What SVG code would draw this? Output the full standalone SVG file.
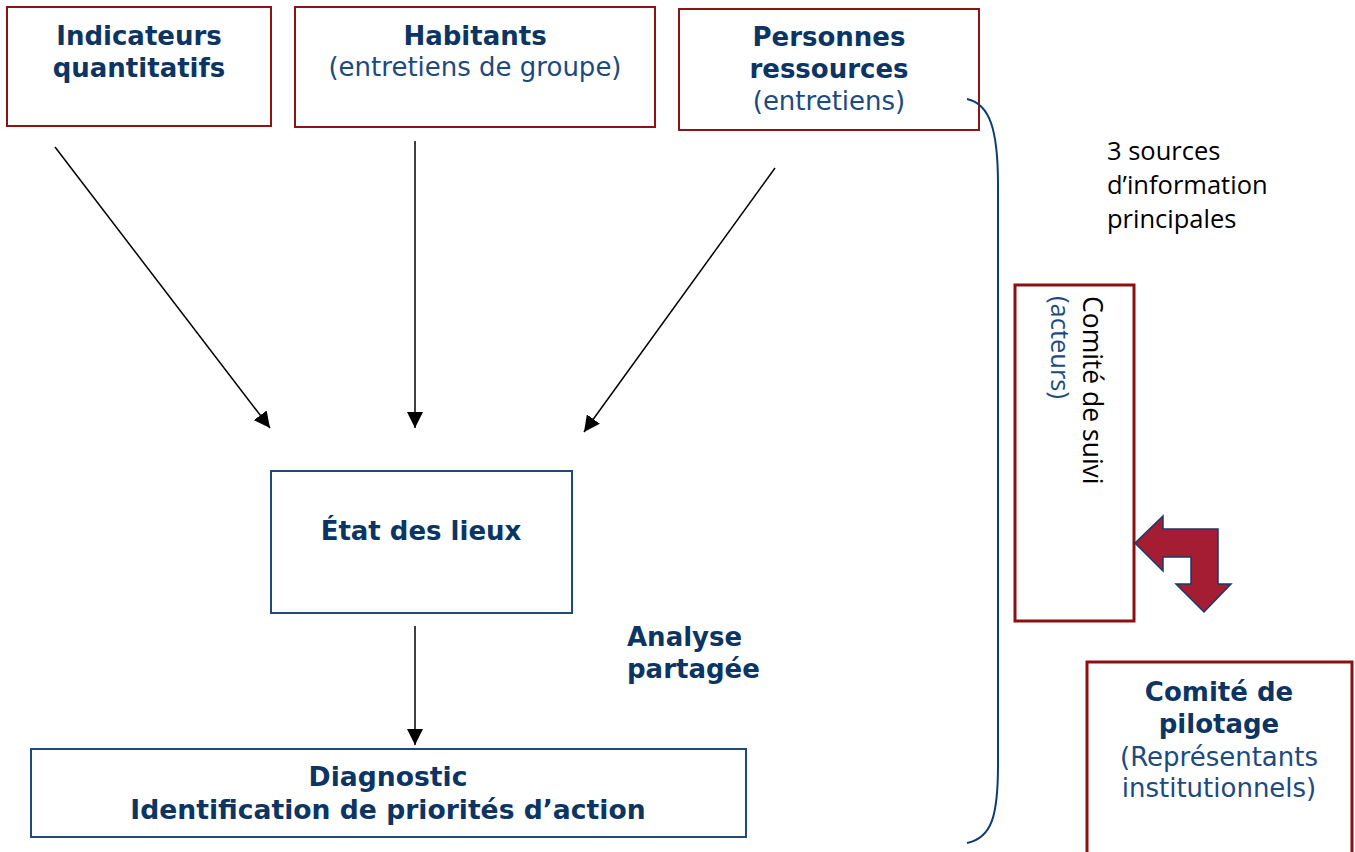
<svg xmlns="http://www.w3.org/2000/svg" width="1355" height="852" viewBox="0 0 1355 852">
<defs>
<marker id="ah" markerUnits="userSpaceOnUse" markerWidth="16" markerHeight="16" viewBox="0 0 16 16" refX="16" refY="8" orient="auto">
<path d="M0,0 L16,8 L0,16 Z" fill="#000"/>
</marker>
<style>
.src{fill:#fff;stroke:#8b1414;stroke-width:2}
.blue{fill:#fff;stroke:#1f497d;stroke-width:2}
.com{fill:#fff;stroke:#8b1010;stroke-width:3}
.b{font-family:"DejaVu Sans",Verdana,sans-serif;font-weight:bold;font-size:26px;fill:#0c3563}
.bl{font-size:26.6px}
.r{font-family:"DejaVu Sans",Verdana,sans-serif;font-size:26px;fill:#1c4a80}
.h{font-family:"Open Sans","Noto Sans",sans-serif;font-size:25.5px;fill:#000}
.hv{font-family:"Open Sans","Noto Sans",sans-serif;font-size:26.5px;fill:#000}
.hb{font-family:"Open Sans","Noto Sans",sans-serif;font-size:25.5px;fill:#1c4a80}
.c{text-anchor:middle}
.conn{stroke:#000;stroke-width:1.5;fill:none;marker-end:url(#ah)}
</style>
</defs>
<rect width="1355" height="852" fill="#fff"/>

<g id="indicateurs">
<rect class="src" x="7" y="7" width="264" height="119"/>
<text class="b c" x="139" y="45">Indicateurs</text>
<text class="b c" x="139" y="77">quantitatifs</text>
</g>

<g id="habitants">
<rect class="src" x="295" y="7" width="360" height="120"/>
<text class="b c" x="475" y="45">Habitants</text>
<text class="r c" x="475" y="76">(entretiens de groupe)</text>
</g>

<g id="personnes">
<rect class="src" x="679" y="9" width="300" height="121"/>
<text class="b c" x="829" y="46">Personnes</text>
<text class="b c" x="829" y="78">ressources</text>
<text class="r c" x="829" y="110">(entretiens)</text>
</g>

<g id="etat">
<rect class="blue" x="271" y="471" width="301" height="142"/>
<text class="b c" x="421" y="540">État des lieux</text>
</g>

<g id="diagnostic">
<rect class="blue" x="31" y="749" width="715" height="88"/>
<text class="b c bl" x="388" y="786">Diagnostic</text>
<text class="b c bl" x="388" y="819">Identification de priorités d’action</text>
</g>

<g id="analyse">
<text class="b" x="627" y="646">Analyse</text>
<text class="b" x="627" y="678">partagée</text>
</g>

<g id="sources-label">
<text class="h" x="1107" y="160">3 sources</text>
<text class="h" x="1107" y="194">d’information</text>
<text class="h" x="1107" y="228">principales</text>
</g>

<g id="comite-suivi">
<rect class="com" x="1015" y="285" width="119" height="336"/>
<text class="hv" transform="translate(1083,296) rotate(90)" x="0" y="0">Comité de suivi</text>
<text class="hb" transform="translate(1051,296) rotate(90)" x="0" y="0">(acteurs)</text>
</g>

<g id="comite-pilotage">
<rect class="com" x="1087" y="662" width="265" height="200"/>
<text class="b c" x="1219" y="701">Comité de</text>
<text class="b c" x="1219" y="733">pilotage</text>
<text class="r c" x="1219" y="766">(Représentants</text>
<text class="r c" x="1219" y="797">institutionnels)</text>
</g>

<g id="bent-arrow">
<path d="M1135,543 L1163,516 L1163,529 L1218,529 L1218,584 L1231,584 L1204,612 L1176,584 L1191,584 L1191,557 L1163,557 L1163,571 Z" fill="#a51d33" stroke="#173a6b" stroke-width="1.5" stroke-linejoin="miter"/>
</g>

<g id="connectors">
<line class="conn" x1="55" y1="147" x2="270" y2="428"/>
<line class="conn" x1="415" y1="141" x2="415" y2="428"/>
<line class="conn" x1="775" y1="168" x2="584" y2="432"/>
<line class="conn" x1="415" y1="626" x2="415" y2="745"/>
<path d="M967,99 C990,104 998,130 998,185 L998,765 C998,815 992,838 967,843" fill="none" stroke="#0b3d73" stroke-width="2"/>
</g>
</svg>
